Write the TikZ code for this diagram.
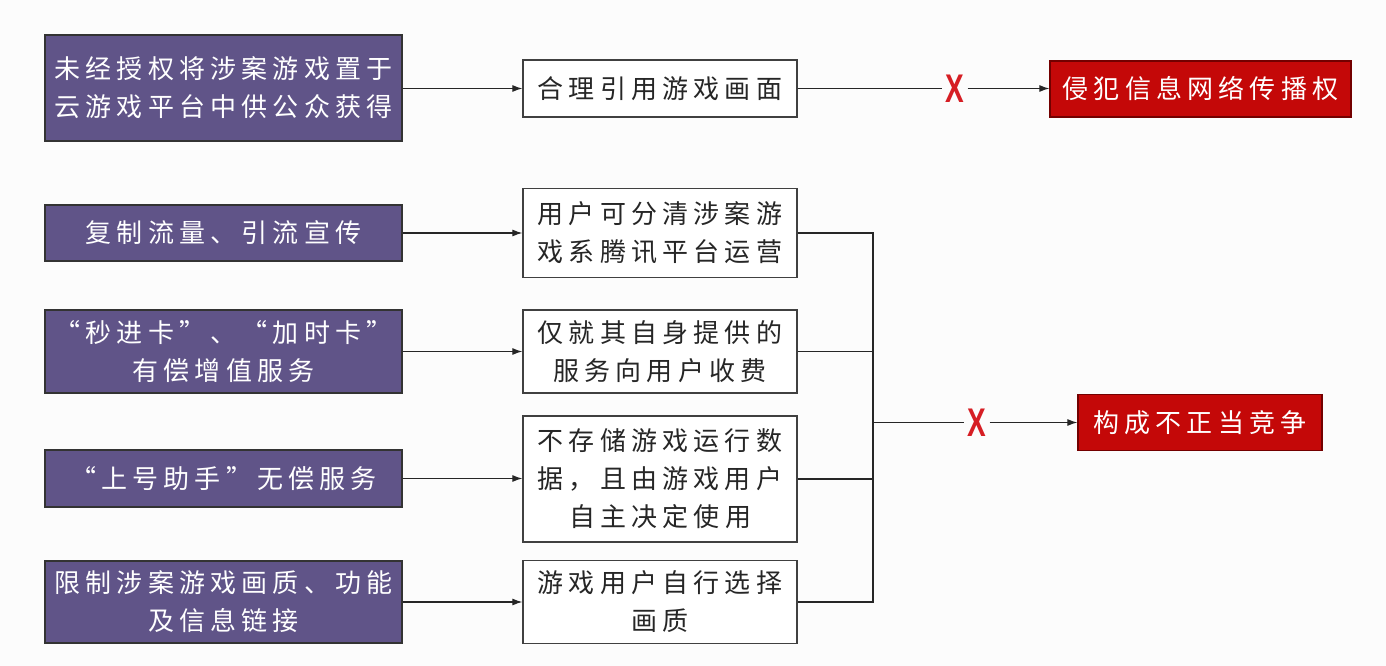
\documentclass[tikz,border=0pt]{standalone}
\usepackage{fontspec}
\newfontfamily\cjk[LetterSpace=20]{Noto Sans CJK SC}
\newfontfamily\xfont{Liberation Sans}
\usetikzlibrary{arrows.meta}
\definecolor{purp}{RGB}{96,84,136}
\definecolor{boxred}{RGB}{196,8,8}
\definecolor{xred}{RGB}{214,30,36}
\definecolor{bg}{RGB}{252,252,252}
\begin{document}
\begin{tikzpicture}[x=1pt,y=-1pt,
  basebox/.style={line width=1.3pt, align=center, inner sep=0pt,
    font=\cjk\fontsize{26}{38}\selectfont},
  lbox/.style={basebox, draw=black!80, fill=purp, text=white, minimum width=357pt},
  mbox/.style={basebox, draw=black!75, fill=white, text=black!85, minimum width=274pt},
  rbox/.style={basebox, draw=red!45!black, fill=boxred, text=white},
  conn/.style={line width=1.1pt, draw=black!85},
  arr/.style={conn, -{Latex[length=10pt,width=7pt]}},
  xmark/.style={text=xred, font=\xfont\bfseries\fontsize{40}{40}\selectfont, inner sep=3pt}]
\useasboundingbox[fill=bg] (0,0) rectangle (1386,666);

\node[lbox, minimum height=106pt] (L1) at (223.5,88) {未经授权将涉案游戏置于\\云游戏平台中供公众获得};
\node[lbox, minimum height=56pt] (L2) at (223.5,233) {复制流量、引流宣传};
\node[lbox, minimum height=83pt] (L3) at (223.5,351.5) {“秒进卡”、“加时卡”\\有偿增值服务};
\node[lbox, minimum height=57pt] (L4) at (223.5,478.5) {“上号助手”无偿服务};
\node[lbox, minimum height=82pt] (L5) at (223.5,602) {限制涉案游戏画质、功能\\及信息链接};

\node[mbox, minimum height=57pt] (M1) at (660,88.5) {合理引用游戏画面};
\node[mbox, minimum height=89pt] (M2) at (660,233) {用户可分清涉案游\\戏系腾讯平台运营};
\node[mbox, minimum height=83pt] (M3) at (660,351.5) {仅就其自身提供的\\服务向用户收费};
\node[mbox, minimum height=126pt] (M4) at (660,479) {不存储游戏运行数\\据，且由游戏用户\\自主决定使用};
\node[mbox, minimum height=83pt] (M5) at (660,602) {游戏用户自行选择\\画质};

\node[rbox, minimum width=301pt, minimum height=56pt] (R1) at (1200.5,89) {侵犯信息网络传播权};
\node[rbox, minimum width=244pt, minimum height=56pt] (R2) at (1200,422.5) {构成不正当竞争};

\node[xmark] (X1) at (955,88.5) {\scalebox{0.7}[1]{X}};
\node[xmark] (X2) at (977,422.5) {\scalebox{0.7}[1]{X}};
\coordinate (J) at (873,422.5);

\draw[arr] (L1.east |- M1.west) -- (M1.west);
\draw[arr] (L2.east) -- (L2.east -| M2.west);
\draw[arr] (L3.east) -- (M3.west);
\draw[arr] (L4.east) -- (L4.east -| M4.west);
\draw[arr] (L5.east) -- (M5.west);

\draw[conn] (M1.east) -- (X1);
\draw[arr] (X1) -- (X1 -| R1.west);

\draw[conn] (M2.east) -- (M2.east -| J) -- (M5.east -| J) -- (M5.east);
\draw[conn] (M3.east) -- (M3.east -| J);
\draw[conn] (M4.east) -- (M4.east -| J);
\draw[conn] (J) -- (X2);
\draw[arr] (X2) -- (R2.west);
\end{tikzpicture}
\end{document}
